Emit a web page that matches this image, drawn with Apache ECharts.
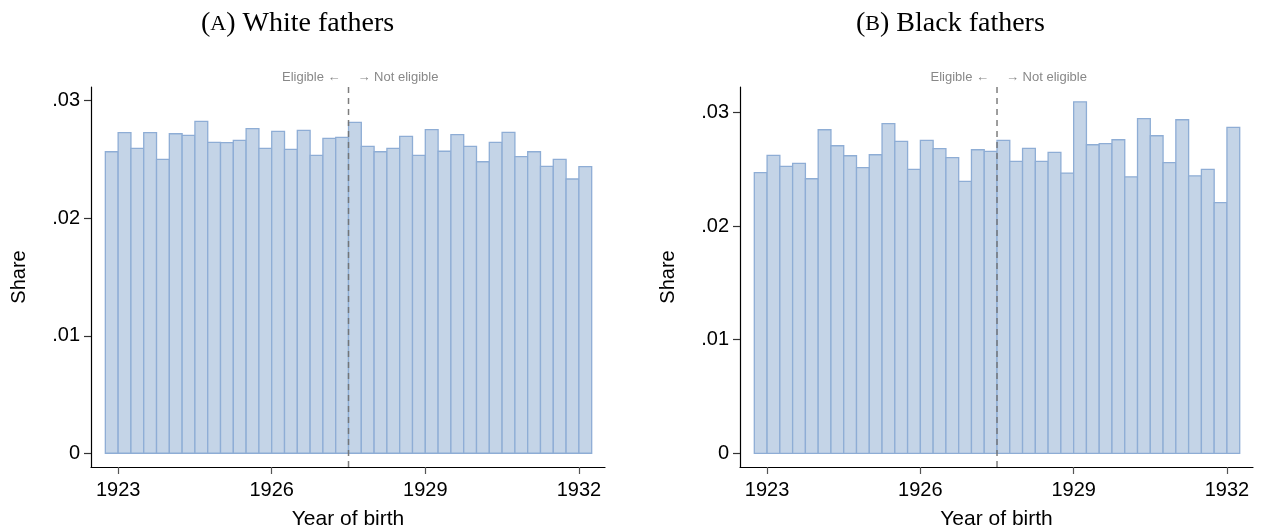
<!DOCTYPE html>
<html>
<head>
<meta charset="utf-8">
<title>Share by year of birth</title>
<script src="https://cdn.jsdelivr.net/npm/echarts@6/dist/echarts.min.js"></script>
<style>
  html, body { margin: 0; padding: 0; background: #fff; }
  #chart { width: 1262px; height: 531px; }
</style>
</head>
<body>
<div id="chart"></div>
<script type="text/javascript">
// left edge of each quarterly bin (year of birth)
var binStarts = [1922.75, 1923, 1923.25, 1923.5, 1923.75, 1924, 1924.25, 1924.5, 1924.75, 1925,
  1925.25, 1925.5, 1925.75, 1926, 1926.25, 1926.5, 1926.75, 1927, 1927.25, 1927.5,
  1927.75, 1928, 1928.25, 1928.5, 1928.75, 1929, 1929.25, 1929.5, 1929.75, 1930,
  1930.25, 1930.5, 1930.75, 1931, 1931.25, 1931.5, 1931.75, 1932];
var binWidth = 0.25;

var whiteShare = [0.02566, 0.02728, 0.02595, 0.02728, 0.02501, 0.02719, 0.02705, 0.02825, 0.02646, 0.02643,
  0.02663, 0.02762, 0.02595, 0.0274, 0.02587, 0.02748, 0.02535, 0.0268, 0.02689,
  0.02816, 0.02612, 0.02566, 0.02595, 0.02697, 0.02535, 0.02754, 0.0257, 0.02711, 0.02612,
  0.02481, 0.02646, 0.02731, 0.02524, 0.02566, 0.02442, 0.02501, 0.02334, 0.02439];

var blackShare = [0.02469, 0.02622, 0.02525, 0.02551, 0.02416, 0.02847, 0.02706, 0.02618, 0.02513, 0.02627,
  0.029, 0.02745, 0.02498, 0.02754, 0.0268, 0.02601, 0.02393, 0.02671, 0.02657,
  0.02754, 0.02569, 0.02683, 0.02569, 0.02648, 0.02466, 0.03093, 0.02715, 0.02724, 0.02759,
  0.02433, 0.02944, 0.02794, 0.02557, 0.02935, 0.02442, 0.02498, 0.02205, 0.02868];

var xTicks = [1923, 1926, 1929, 1932];
var yTicks = [0, 0.01, 0.02, 0.03];
var cutoff = 1927.5;

var xRange = [1922.47, 1932.51];
var yRangeWhite = [-0.00117, 0.03117];
var yRangeBlack = [-0.0012, 0.03223];

var sans = 'Liberation Sans, Arial, Helvetica, sans-serif';
var serif = 'Liberation Serif, Times New Roman, serif';

function pairs(values) {
  return values.map(function (v, i) { return [binStarts[i], v]; });
}

function renderBar(params, api) {
  var x0 = api.value(0);
  var h = api.value(1);
  var p1 = api.coord([x0, h]);
  var p2 = api.coord([x0 + binWidth, 0]);
  return {
    type: 'rect',
    shape: { x: p1[0], y: p1[1], width: p2[0] - p1[0], height: p2[1] - p1[1] },
    style: { fill: '#c4d4e7', stroke: '#8eadd5', lineWidth: 1.3 }
  };
}

function yLabel(v) {
  if (v === 0) { return '0'; }
  return v.toFixed(2).replace(/^0/, '');
}

function xAxisOpt(grid) {
  return {
    type: 'value', gridIndex: grid, min: xRange[0], max: xRange[1],
    name: 'Year of birth', nameLocation: 'middle', nameGap: 42,
    nameTextStyle: { fontFamily: sans, fontSize: 21, color: '#000' },
    splitLine: { show: false },
    axisLine: { show: true, onZero: false, lineStyle: { color: '#000', width: 1.2 } },
    axisTick: { show: true, length: 7, customValues: xTicks, lineStyle: { color: '#555', width: 1.2 } },
    axisLabel: { customValues: xTicks, margin: 13, fontFamily: sans, fontSize: 20, color: '#000',
      formatter: function (v) { return String(v); } }
  };
}

function yAxisOpt(grid, range) {
  return {
    type: 'value', gridIndex: grid, min: range[0], max: range[1],
    name: 'Share', nameLocation: 'middle', nameGap: 62, nameRotate: 90,
    nameTextStyle: { fontFamily: sans, fontSize: 20, color: '#000' },
    splitLine: { show: false },
    axisLine: { show: true, onZero: false, lineStyle: { color: '#000', width: 1.2 } },
    axisTick: { show: true, length: 7, customValues: yTicks, lineStyle: { color: '#333', width: 1.2 } },
    axisLabel: { customValues: yTicks, margin: 11, fontFamily: sans, fontSize: 20, color: '#000', formatter: yLabel }
  };
}

function cutLine(idx, range) {
  return {
    type: 'line', xAxisIndex: idx, yAxisIndex: idx, z: 5,
    data: [[cutoff, range[0]], [cutoff, range[1]]],
    symbol: 'none', silent: true,
    lineStyle: { color: '#6f6f6f', width: 1.5, type: [6, 5], opacity: 0.9 }
  };
}

var chart = echarts.init(document.getElementById('chart'), null, { renderer: 'canvas' });

chart.setOption({
  animation: false,
  backgroundColor: '#fff',
  title: [
    {
      text: '({a|A}) White fathers', left: 196, top: 5,
      textStyle: { fontFamily: serif, fontSize: 28, fontWeight: 'normal', color: '#000',
        rich: { a: { fontFamily: serif, fontSize: 22, color: '#000' } } }
    },
    {
      text: '({a|B}) Black fathers', left: 851, top: 5,
      textStyle: { fontFamily: serif, fontSize: 28, fontWeight: 'normal', color: '#000',
        rich: { a: { fontFamily: serif, fontSize: 22, color: '#000' } } }
    }
  ],
  grid: [
    { left: 91, top: 87, width: 514, height: 380, outerBoundsMode: 'none' },
    { left: 740, top: 87, width: 513, height: 380, outerBoundsMode: 'none' }
  ],
  xAxis: [xAxisOpt(0), xAxisOpt(1)],
  yAxis: [yAxisOpt(0, yRangeWhite), yAxisOpt(1, yRangeBlack)],
  series: [
    { type: 'custom', xAxisIndex: 0, yAxisIndex: 0, renderItem: renderBar, data: pairs(whiteShare), clip: true },
    { type: 'custom', xAxisIndex: 1, yAxisIndex: 1, renderItem: renderBar, data: pairs(blackShare), clip: true },
    cutLine(0, yRangeWhite),
    cutLine(1, yRangeBlack)
  ]
});

// labels either side of the cutoff line
var notes = [];
[yRangeWhite, yRangeBlack].forEach(function (range, i) {
  var p = chart.convertToPixel({ gridIndex: i }, [cutoff, range[1]]);
  var style = { fontFamily: sans, fontSize: 13, fill: '#888', verticalAlign: 'middle' };
  notes.push({ type: 'text', x: p[0] - 8, y: p[1] - 10,
    style: Object.assign({ text: 'Eligible ←', align: 'right' }, style) });
  notes.push({ type: 'text', x: p[0] + 9, y: p[1] - 10,
    style: Object.assign({ text: '→ Not eligible', align: 'left' }, style) });
});
chart.setOption({ graphic: notes });
</script>
</body>
</html>
